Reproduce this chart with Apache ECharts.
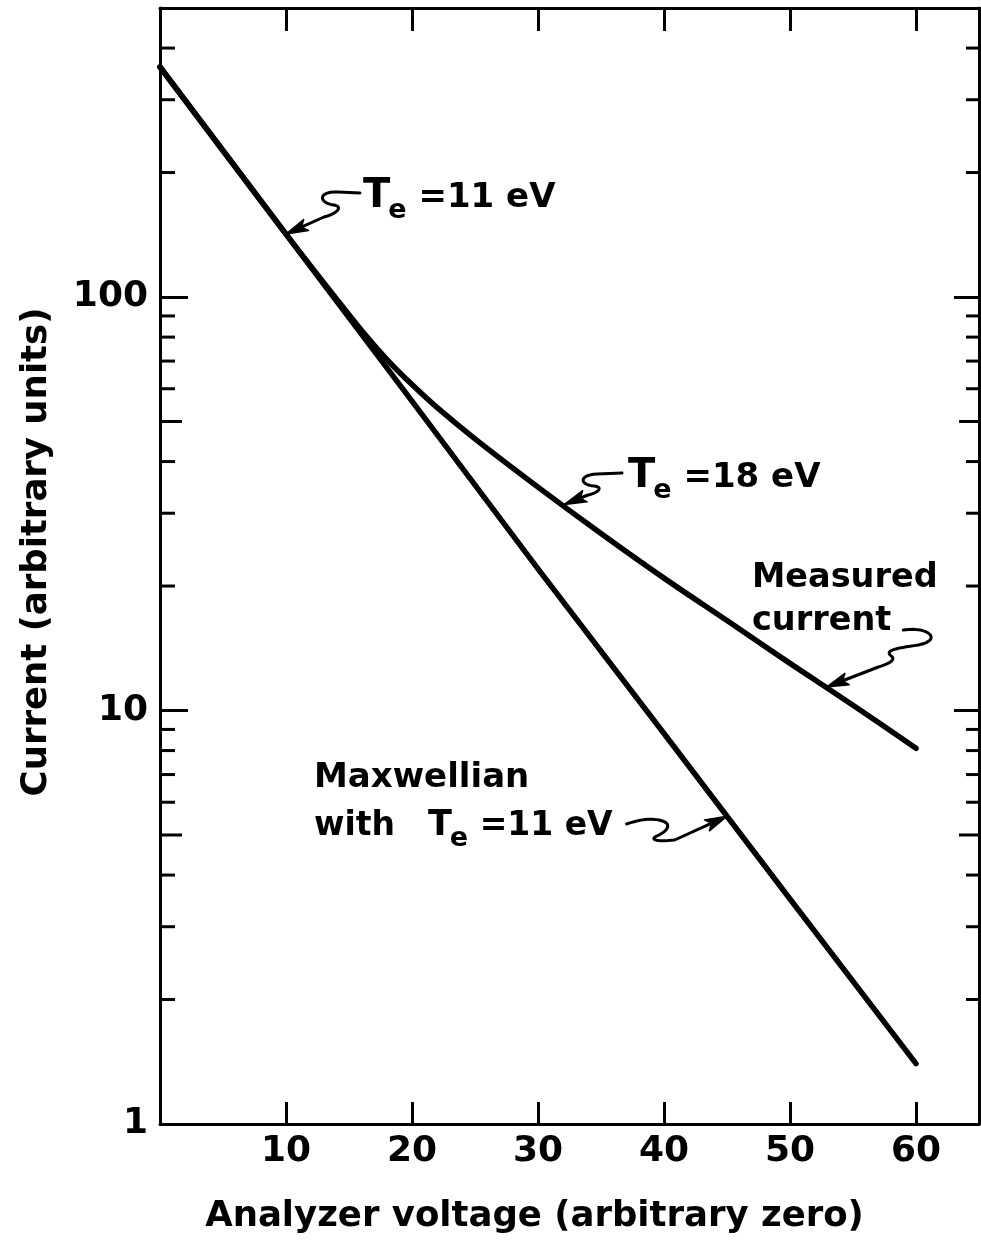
<!DOCTYPE html>
<html>
<head>
<meta charset="utf-8">
<title>Analyzer current versus voltage</title>
<script src="https://cdn.jsdelivr.net/npm/echarts@6.0.0/dist/echarts.min.js"></script>
<style>
  html, body { margin: 0; padding: 0; background: #fff; }
  #chart { width: 981px; height: 1244px; }
</style>
</head>
<body>
<div id="chart"></div>
<script>
// Analyzer voltage (arbitrary zero) and the measured collector current
const voltage = [0, 10, 14, 16, 18, 20, 22, 25, 30, 35, 40, 45, 50, 55, 60];
const measuredCurrent = [360, 142, 99, 83, 70.7, 61.4, 54, 45.4, 34.7, 26.8, 20.9, 16.5, 13.0, 10.3, 8.1];

// Maxwellian distribution with Te = 11 eV (straight line on the log scale)
const maxwellVoltage = [0, 10, 20, 30, 40, 50, 60];
const maxwellCurrent = [360, 142, 56, 22, 8.8, 3.5, 1.4];

// Tick labels and minor tick positions
const xTickLabels = [10, 20, 30, 40, 50, 60];
const yTickLabels = [1, 10, 100];
const yMinorTicks = [2, 3, 4, 5, 6, 7, 8, 9, 20, 30, 40, 50, 60, 70, 80, 90, 200, 300, 400];

// Where the annotation arrows touch the curves (voltage, current)
const arrowTe11 = [10, 142];
const arrowTe18 = [32.1, 31.5];
const arrowMeasured = [52.9, 11.4];
const arrowMaxwell = [45, 5.55];

const X_MIN = 0, X_MAX = 65, Y_MIN = 1, Y_MAX = 500;
const FONT = 'DejaVu Sans';
const INK = '#000';

const chart = echarts.init(document.getElementById('chart'), null, { renderer: 'canvas' });

const axisLine = { show: true, onZero: false, lineStyle: { color: INK, width: 3 } };
const pairs = (xs, ys) => xs.map((x, i) => [x, ys[i]]);

chart.setOption({
  animation: false,
  backgroundColor: '#fff',
  textStyle: { fontFamily: FONT, color: INK },
  grid: { left: 160, right: 2, top: 8, bottom: 120, containLabel: false, outerBoundsMode: 'none' },
  xAxis: [
    {
      type: 'value', position: 'bottom', min: X_MIN, max: X_MAX, interval: 10,
      axisLine,
      axisTick: { show: true, inside: true, length: 22, lineStyle: { color: INK, width: 3 } },
      axisLabel: {
        show: true, margin: 10, fontSize: 36, fontWeight: 'bold', color: INK, fontFamily: FONT,
        formatter: v => xTickLabels.includes(v) ? String(v) : ''
      },
      splitLine: { show: false },
      name: 'Analyzer voltage (arbitrary zero)',
      nameLocation: 'middle', nameGap: 75,
      nameTextStyle: { fontSize: 35.5, fontWeight: 'bold', color: INK, fontFamily: FONT, padding: [0, 70, 0, 0] }
    },
    {
      type: 'value', position: 'top', min: X_MIN, max: X_MAX, interval: 10,
      axisLine,
      axisTick: { show: true, inside: true, length: 23, lineStyle: { color: INK, width: 3 } },
      axisLabel: { show: false },
      splitLine: { show: false }
    }
  ],
  yAxis: [
    {
      type: 'log', logBase: 10, position: 'left', min: Y_MIN, max: Y_MAX,
      axisLine,
      axisTick: { show: true, inside: true, length: 28, lineStyle: { color: INK, width: 3 } },
      minorTick: { show: false },
      axisLabel: {
        show: true, margin: 12, fontSize: 36, fontWeight: 'bold', color: INK, fontFamily: FONT,
        formatter: v => yTickLabels.includes(Math.round(v)) ? String(Math.round(v)) : ''
      },
      splitLine: { show: false },
      name: 'Current (arbitrary units)',
      nameLocation: 'middle', nameGap: 105,
      nameTextStyle: { fontSize: 35.5, fontWeight: 'bold', color: INK, fontFamily: FONT, padding: [0, 0, 0, 28] }
    },
    {
      type: 'log', logBase: 10, position: 'right', min: Y_MIN, max: Y_MAX,
      axisLine,
      axisTick: { show: true, inside: true, length: 25, lineStyle: { color: INK, width: 3 } },
      minorTick: { show: false },
      axisLabel: { show: false },
      splitLine: { show: false }
    }
  ],
  series: [
    {
      // minor ticks on both vertical axes (2..9 within each decade)
      type: 'custom', xAxisIndex: 0, yAxisIndex: 0, silent: true, z: 5,
      data: yMinorTicks.map(v => [X_MIN, v]),
      encode: { x: 0, y: 1 },
      renderItem(params, api) {
        const v = api.value(1);
        const left = api.coord([X_MIN, v]);
        const right = api.coord([X_MAX, v]);
        const mant = Math.round(v / Math.pow(10, Math.floor(Math.log10(v) + 1e-9)));
        const lenL = mant === 5 ? 22 : 15;
        const lenR = mant === 5 ? 20 : 13;
        const st = { stroke: INK, lineWidth: 3 };
        return {
          type: 'group',
          children: [
            { type: 'line', shape: { x1: left[0], y1: left[1], x2: left[0] + lenL, y2: left[1] }, style: st },
            { type: 'line', shape: { x1: right[0], y1: right[1], x2: right[0] - lenR, y2: right[1] }, style: st }
          ]
        };
      }
    },
    {
      name: 'Measured current', type: 'line', xAxisIndex: 0, yAxisIndex: 0,
      data: pairs(voltage, measuredCurrent),
      symbol: 'none', smooth: 0.3, clip: true,
      lineStyle: { color: INK, width: 5.5, cap: 'round', join: 'round' }
    },
    {
      name: 'Maxwellian, Te = 11 eV', type: 'line', xAxisIndex: 0, yAxisIndex: 0,
      data: pairs(maxwellVoltage, maxwellCurrent),
      symbol: 'none', smooth: false, clip: true,
      lineStyle: { color: INK, width: 5.5, cap: 'round', join: 'round' }
    }
  ]
});

// ---- annotations: labels with wavy arrows pointing at the curves ----
const measureCtx = document.createElement('canvas').getContext('2d');
function textWidth(str, size) {
  measureCtx.font = 'bold ' + size + 'px "' + FONT + '"';
  return measureCtx.measureText(str).width;
}
// text placed by its alphabetic baseline
function textAt(str, x, baseline, size) {
  return {
    type: 'text', x: x, y: baseline - 0.346 * size, silent: true,
    style: {
      text: str, fontSize: size, fontWeight: 'bold', fontFamily: FONT, fill: INK,
      align: 'left', verticalAlign: 'middle'
    }
  };
}
// "T_e =<v> eV" with a subscript e; returns elements and right edge
function teLabel(x, baseline, value, tSize, size) {
  const els = [];
  els.push(textAt('T', x, baseline, tSize));
  const ex = x + textWidth('T', tSize) - 2;
  els.push(textAt('e', ex, baseline + 10, 27));
  const rx = ex + textWidth('e', 27);
  const rest = ' =' + value + ' eV';
  els.push(textAt(rest, rx, baseline, size));
  return { els, right: rx + textWidth(rest, size) };
}
function toPx(p) { return chart.convertToPixel({ xAxisIndex: 0, yAxisIndex: 0 }, p); }

// follow a small relative path ('l' and 'c' commands) and return sampled points
function squigglePoints(start, rel) {
  const pts = [[start[0], start[1]]];
  let cx = start[0], cy = start[1];
  rel.match(/[lc][^lc]*/g).forEach(cmd => {
    const n = cmd.slice(1).trim().split(/[\s,]+/).map(Number);
    if (cmd[0] === 'l') {
      cx += n[0]; cy += n[1];
      pts.push([cx, cy]);
    } else {
      const p0 = [cx, cy];
      const p1 = [cx + n[0], cy + n[1]];
      const p2 = [cx + n[2], cy + n[3]];
      const p3 = [cx + n[4], cy + n[5]];
      for (let i = 1; i <= 14; i++) {
        const t = i / 14, u = 1 - t;
        pts.push([
          u * u * u * p0[0] + 3 * u * u * t * p1[0] + 3 * u * t * t * p2[0] + t * t * t * p3[0],
          u * u * u * p0[1] + 3 * u * u * t * p1[1] + 3 * u * t * t * p2[1] + t * t * t * p3[1]
        ]);
      }
      cx = p3[0]; cy = p3[1];
    }
  });
  return pts;
}
// squiggle from a tail point, then a straight shaft and a slim arrowhead at the tip
function wavyArrow(tail, rel, tipData) {
  const tip = toPx(tipData);
  const pts = squigglePoints(tail, rel);
  const last = pts[pts.length - 1];
  const dx = tip[0] - last[0], dy = tip[1] - last[1];
  const len = Math.hypot(dx, dy);
  const ux = dx / len, uy = dy / len;
  const headLen = 22, headHalf = 6;
  const bx = tip[0] - ux * headLen, by = tip[1] - uy * headLen;
  const nx = -uy, ny = ux;
  pts.push([bx + ux * 4, by + uy * 4]);
  return [
    {
      type: 'polyline', silent: true,
      shape: { points: pts },
      style: { fill: null, stroke: INK, lineWidth: 3, lineCap: 'round', lineJoin: 'round' }
    },
    {
      type: 'polygon', silent: true,
      shape: { points: [[tip[0], tip[1]], [bx + nx * headHalf, by + ny * headHalf], [bx + ux * 5, by + uy * 5], [bx - nx * headHalf, by - ny * headHalf]] },
      style: { fill: INK, stroke: INK, lineWidth: 1.5, lineJoin: 'round' }
    }
  ];
}

const graphics = [];

// T_e = 11 eV (upper)
const te11 = teLabel(363, 210, '11', 40, 34);
graphics.push(...te11.els);
graphics.push(...wavyArrow([360, 193], 'l -22 -1 c -20 -1 -20 11 -4 13 c 10 2 2 9 -10 12', arrowTe11));

// T_e = 18 eV
const te18 = teLabel(628, 490, '18', 40, 34);
graphics.push(...te18.els);
graphics.push(...wavyArrow([622, 473], 'l -25 1 c -19 1 -17 11 -3 12 c 10 1 4 7 -6 9', arrowTe18));

// Measured current
graphics.push(textAt('Measured', 752, 590, 33.5));
graphics.push(textAt('current', 752, 633, 33.5));
const curEnd = 752 + textWidth('current', 33.5);
graphics.push(...wavyArrow([curEnd + 12, 630], 'c 25 -4 40 10 15 15 c -20 3 -35 5 -27 11 c 5 4 -3 8 -13 11', arrowMeasured));

// Maxwellian with T_e = 11 eV
graphics.push(textAt('Maxwellian', 314, 790, 34));
graphics.push(textAt('with', 314, 838, 33));
const te11b = teLabel(428, 838, '11', 35, 33);
graphics.push(...te11b.els);
graphics.push(...wavyArrow([te11b.right + 14, 824], 'c 12 -4 22 -6 32 -4 c 16 3 8 12 -2 16 c -8 4 2 6 18 4', arrowMaxwell));

chart.setOption({ graphic: { elements: graphics } });
</script>
</body>
</html>
